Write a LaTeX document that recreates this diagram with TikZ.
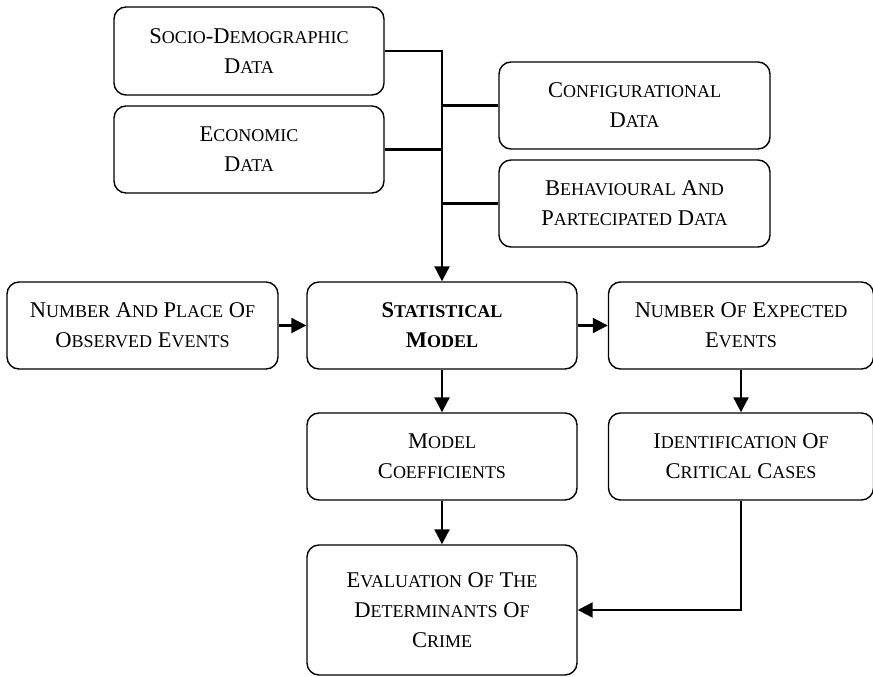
\documentclass[tikz,border=0pt]{standalone}
\usepackage{fontspec}
\setmainfont{Liberation Serif}
\usetikzlibrary{arrows.meta}
\newcommand{\sw}[1]{{\fontsize{18}{30}\selectfont #1}}
\begin{document}
\begin{tikzpicture}[x=1pt,y=-1pt,
  box/.style={draw, line width=1.4pt, rounded corners=12pt, align=center, inner sep=0pt,
    font=\fontsize{22.5}{30}\selectfont, minimum height=87pt, minimum width=270pt},
  conn/.style={line width=2.2pt},
  arr/.style={conn, -{Triangle[length=15pt,width=15pt]}}]
\useasboundingbox (0,0) rectangle (873,677);
\node[box, minimum height=88pt] (socio) at (249,51) {S\sw{OCIO}-D\sw{EMOGRAPHIC}\\D\sw{ATA}};
\node[box] (econ) at (249,149.5) {E\sw{CONOMIC}\\D\sw{ATA}};
\node[box, minimum width=271pt] (config) at (634.5,105.5) {C\sw{ONFIGURATIONAL}\\D\sw{ATA}};
\node[box, minimum width=271pt] (behav) at (634.5,203.5) {B\sw{EHAVIOURAL} A\sw{ND}\\P\sw{ARTECIPATED} D\sw{ATA}};
\node[box, minimum width=271pt] (number) at (142.5,325.5) {N\sw{UMBER} A\sw{ND} P\sw{LACE} O\sw{F}\\O\sw{BSERVED} E\sw{VENTS}};
\node[box] (stat) at (442,325.5) {\bfseries S\sw{TATISTICAL}\\\bfseries M\sw{ODEL}};
\node[box, minimum width=265pt] (expected) at (741,325.5) {N\sw{UMBER} O\sw{F} E\sw{XPECTED}\\E\sw{VENTS}};
\node[box] (coeff) at (442,456.5) {M\sw{ODEL}\\C\sw{OEFFICIENTS}};
\node[box, minimum width=265pt] (ident) at (741,456.5) {I\sw{DENTIFICATION} O\sw{F}\\C\sw{RITICAL} C\sw{ASES}};
\node[box, minimum height=130pt] (eval) at (442,610) {E\sw{VALUATION} O\sw{F} T\sw{HE}\\D\sw{ETERMINANTS} O\sw{F}\\C\sw{RIME}};
\coordinate (top) at (442,51);
\draw[arr] (socio.east) -- (top) -- (stat.north);
\draw[conn] (econ.east) -- (econ.east -| top);
\draw[conn] (config.west) -- (config.west -| top);
\draw[conn] (behav.west) -- (behav.west -| top);
\draw[arr] (number) -- (stat);
\draw[arr] (stat) -- (expected);
\draw[arr] (stat) -- (coeff);
\draw[arr] (expected) -- (ident);
\draw[arr] (coeff) -- (eval);
\draw[arr] (ident.south) |- (eval.east);
\end{tikzpicture}
\end{document}
